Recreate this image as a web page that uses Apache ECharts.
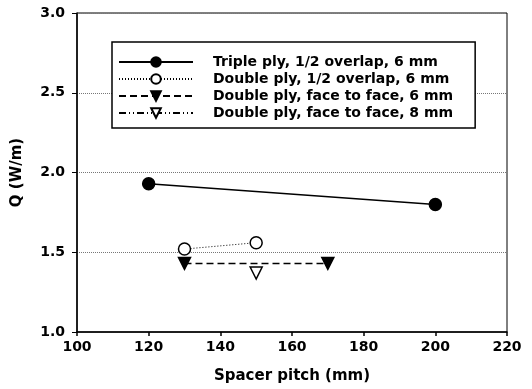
<!DOCTYPE html>
<html>
<head>
<meta charset="utf-8">
<script src="https://cdn.jsdelivr.net/npm/echarts@6/dist/echarts.min.js"></script>
<style>
  html, body { margin: 0; padding: 0; background: #fff; }
  #chart { width: 532px; height: 389px; }
</style>
</head>
<body>
<div id="chart"></div>
<script>
// values
const seriesNames = [
  'Triple ply, 1/2 overlap, 6 mm',
  'Double ply, 1/2 overlap, 6 mm',
  'Double ply, face to face, 6 mm',
  'Double ply, face to face, 8 mm'
]
const tripleOverlap6 = [[120, 1.93], [200, 1.80]]
const doubleOverlap6 = [[130, 1.52], [150, 1.56]]
const doubleFace6 = [[130, 1.43], [170, 1.43]]
const doubleFace8 = [[150, 1.37]]

const font = 'DejaVu Sans, sans-serif'
const chart = echarts.init(document.getElementById('chart'))

const makeSeries = (name, data, symbol, fill, lineType, width, size) => ({
  name,
  type: 'line',
  data,
  symbol,
  symbolSize: size,
  symbolRotate: symbol === 'triangle' ? 180 : 0,
  showAllSymbol: true,
  lineStyle: { color: '#000', width, type: lineType },
  itemStyle: { color: fill, borderColor: '#000', borderWidth: 1.5 },
  emphasis: { disabled: true },
  z: 3
})

chart.setOption({
  animation: false,
  grid: {
    left: 77, right: 25, top: 13, bottom: 57,
    show: true, borderColor: '#000', borderWidth: 1
  },
  legend: {
    orient: 'vertical',
    left: 112,
    top: 42,
    padding: [13, 22, 8, 6],
    borderColor: '#000',
    borderWidth: 1.5,
    backgroundColor: '#fff',
    itemWidth: 74,
    itemHeight: 12,
    itemGap: 3,
    textStyle: {
      fontFamily: font, fontWeight: 'bold', fontSize: 14, color: '#000',
      padding: [0, 0, 0, 15], lineHeight: 14
    },
    data: seriesNames
  },
  xAxis: {
    type: 'value',
    min: 100, max: 220, interval: 20,
    name: 'Spacer pitch (mm)',
    nameLocation: 'middle',
    nameGap: 37,
    nameTextStyle: { fontFamily: font, fontWeight: 'bold', fontSize: 15, color: '#000' },
    axisLine: { lineStyle: { color: '#000', width: 1.5 } },
    axisTick: { inside: false, length: 4, lineStyle: { color: '#000', width: 1.5 } },
    axisLabel: { fontFamily: font, fontWeight: 'bold', fontSize: 14, color: '#000', margin: 8 },
    splitLine: { show: false }
  },
  yAxis: {
    type: 'value',
    min: 1, max: 3, interval: 0.5,
    name: 'Q (W/m)',
    nameLocation: 'middle',
    nameGap: 52,
    nameTextStyle: { fontFamily: font, fontWeight: 'bold', fontSize: 15, color: '#000' },
    axisLine: { lineStyle: { color: '#000', width: 1.5 } },
    axisTick: { inside: false, length: 5, lineStyle: { color: '#000', width: 1 } },
    axisLabel: {
      fontFamily: font, fontWeight: 'bold', fontSize: 14, color: '#000', margin: 12,
      formatter: v => v.toFixed(1)
    },
    splitLine: { show: true, lineStyle: { color: '#777', width: 1, type: [1, 1] } }
  },
  series: [
    makeSeries(seriesNames[0], tripleOverlap6, 'circle', '#000', 'solid', 1.5, 12),
    makeSeries(seriesNames[1], doubleOverlap6, 'circle', '#fff', [1, 2], 1, 12),
    makeSeries(seriesNames[2], doubleFace6, 'triangle', '#000', [7, 4], 1.5, 12),
    makeSeries(seriesNames[3], doubleFace8, 'triangle', '#fff', [7, 3, 1, 3, 1, 3], 1, 12)
  ]
})
</script>
</body>
</html>
